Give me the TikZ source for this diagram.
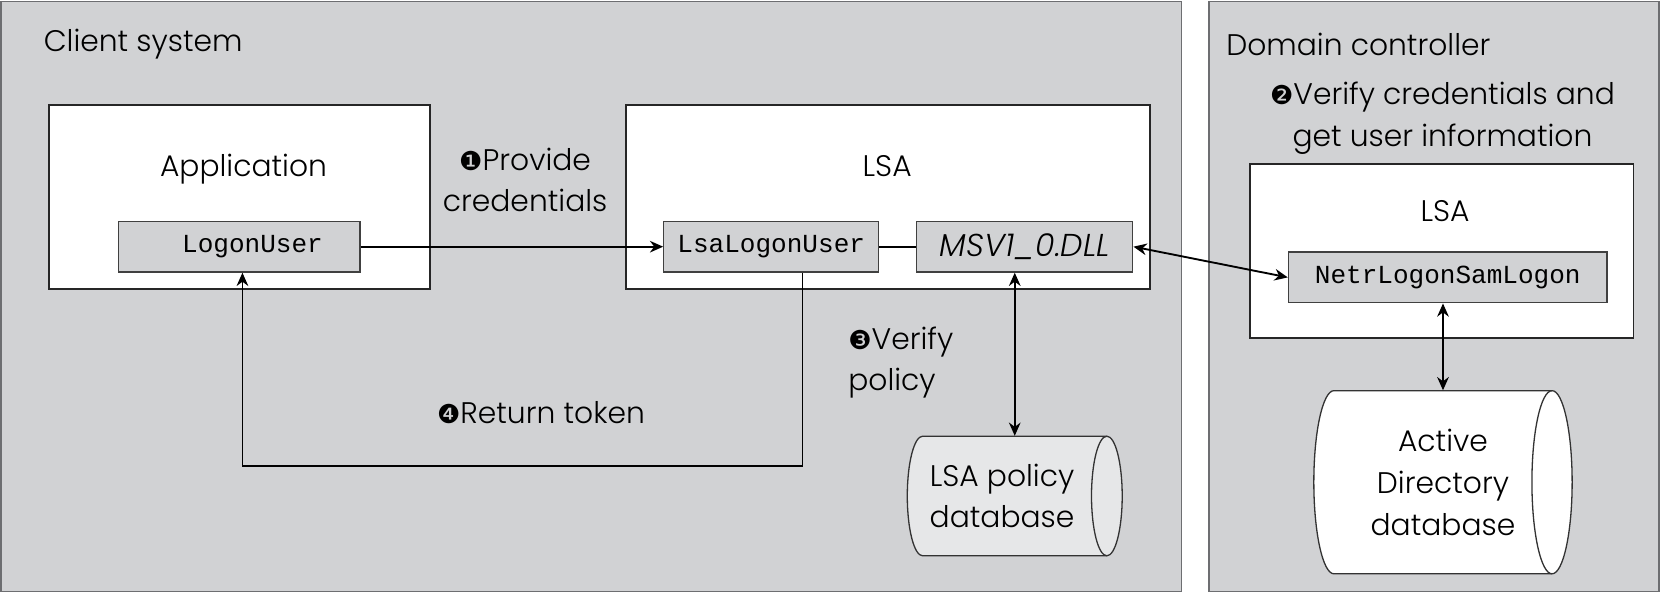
\documentclass[tikz,border=0pt]{standalone}
\usepackage{fontspec}
\setmainfont{Poppins}[UprightFont=* Light, ItalicFont=* Light Italic]
\setmonofont{Liberation Mono}
\newfontfamily\dingfont{DejaVu Sans}
\usetikzlibrary{arrows.meta}
\definecolor{panelgray}{HTML}{D1D2D4}
\definecolor{edgegray}{HTML}{6D6E71}
\definecolor{dbgray}{HTML}{E6E7E8}
\newcommand{\stepno}[1]{{\dingfont\fontsize{14}{22}\selectfont #1}}
\begin{document}
\begin{tikzpicture}[x=1cm,y=1cm,
  font=\fontsize{16}{22.5}\selectfont,
  panel/.style={draw=edgegray, fill=panelgray, line width=0.8pt, inner sep=0pt},
  frame/.style={draw=black!85, fill=white, line width=1pt},
  call/.style={draw=black!75, fill=panelgray, line width=0.7pt, minimum height=0.96cm, font=\ttfamily\fontsize{14}{16}\selectfont},
  dbline/.style={draw=black!80, line width=0.7pt},
  dbtext/.style={align=center, inner sep=0pt},
  arr/.style={-{Stealth[length=2.5mm,width=2.2mm]}, line width=1pt},
  dbl/.style={{Stealth[length=2.5mm,width=2.2mm]}-{Stealth[length=2.5mm,width=2.2mm]}, line width=1pt}]
\useasboundingbox (0,0) rectangle (31.36,-11.2);
\node[panel, minimum width=22.3cm, minimum height=11.14cm] (client) at (11.17,-5.6) {};
\node[panel, minimum width=8.5cm, minimum height=11.14cm] (dc) at (27.09,-5.6) {};
\node[anchor=west, inner sep=0pt] (clientlbl) at (0.82,-0.84) {Client system};
\node[anchor=west, inner sep=0pt] (dclbl) at (23.16,-0.84) {Domain controller};

% client side
\node[frame, minimum width=7.2cm, minimum height=3.48cm] (app) at (4.52,-3.72) {};
\node (applbl) at (4.6,-3.2) {Application};
\node[call, minimum width=4.56cm] (logon) at (4.52,-4.66) {\hspace*{5mm}LogonUser};
\node[frame, minimum width=9.9cm, minimum height=3.48cm] (lsa) at (16.77,-3.72) {};
\node (lsalbl) at (16.76,-3.14) {LSA};
\node[call, minimum width=4.06cm] (lsalogon) at (14.57,-4.66) {LsaLogonUser};
\node[call, minimum width=4.08cm, font=\itshape\fontsize{17}{22}\selectfont] (msv) at (19.36,-4.66) {MSV1\_0.DLL};
\coordinate (lsadbc) at (19.17,-9.37);
\draw[dbline, fill=dbgray] ([xshift=-1.74cm,yshift=1.13cm]lsadbc) arc[start angle=90, end angle=270, x radius=0.29cm, y radius=1.13cm]
  -- ++(3.48,0) arc[start angle=-90, end angle=90, x radius=0.29cm, y radius=1.13cm] -- cycle;
\draw[dbline] ([xshift=1.74cm,yshift=1.13cm]lsadbc) arc[start angle=90, end angle=270, x radius=0.29cm, y radius=1.13cm];
\node[dbtext, minimum width=3.0cm, minimum height=2.26cm] (lsadb) at ([xshift=-2.4mm]lsadbc) {LSA policy\\database};

% domain controller side
\node[align=center] (step2) at (27.25,-2.24) {\stepno{❷}Verify credentials and\\get user information};
\node[frame, minimum width=7.24cm, minimum height=3.28cm] (dclsa) at (27.24,-4.74) {};
\node (dclsalbl) at (27.3,-3.98) {LSA};
\node[call, minimum width=6.02cm] (netr) at (27.35,-5.24) {NetrLogonSamLogon};
\coordinate (addbc) at (27.26,-9.11);
\draw[dbline, fill=white] ([xshift=-2.06cm,yshift=1.73cm]addbc) arc[start angle=90, end angle=270, x radius=0.38cm, y radius=1.73cm]
  -- ++(4.12,0) arc[start angle=-90, end angle=90, x radius=0.38cm, y radius=1.73cm] -- cycle;
\draw[dbline] ([xshift=2.06cm,yshift=1.73cm]addbc) arc[start angle=90, end angle=270, x radius=0.38cm, y radius=1.73cm];
\node[dbtext, minimum width=4.12cm, minimum height=3.46cm] (addb) at (addbc) {Active\\Directory\\database};

% steps
\node[align=center] (step1) at (9.92,-3.4) {\stepno{❶}Provide\\credentials};
\node[align=left, anchor=west, inner sep=0pt] (step3) at (16.02,-6.85) {\stepno{❸}Verify\\policy};
\node (step4) at (10.22,-7.8) {\stepno{❹}Return token};

\draw[arr] (logon.east) -- (lsalogon.west);
\draw[line width=1pt] (lsalogon.east) -- (msv.west);
\draw[dbl] (msv.east) -- (netr.west);
\draw[dbl] (lsadbc |- msv.south) -- (lsadbc |- lsadb.north);
\draw[dbl] (addb.north |- netr.south) -- (addb.north);
\coordinate (back) at (4.58,-8.8);
\draw[arr] ([xshift=5.9mm]lsalogon.south) |- (back) -- (back |- logon.south);
\end{tikzpicture}
\end{document}
